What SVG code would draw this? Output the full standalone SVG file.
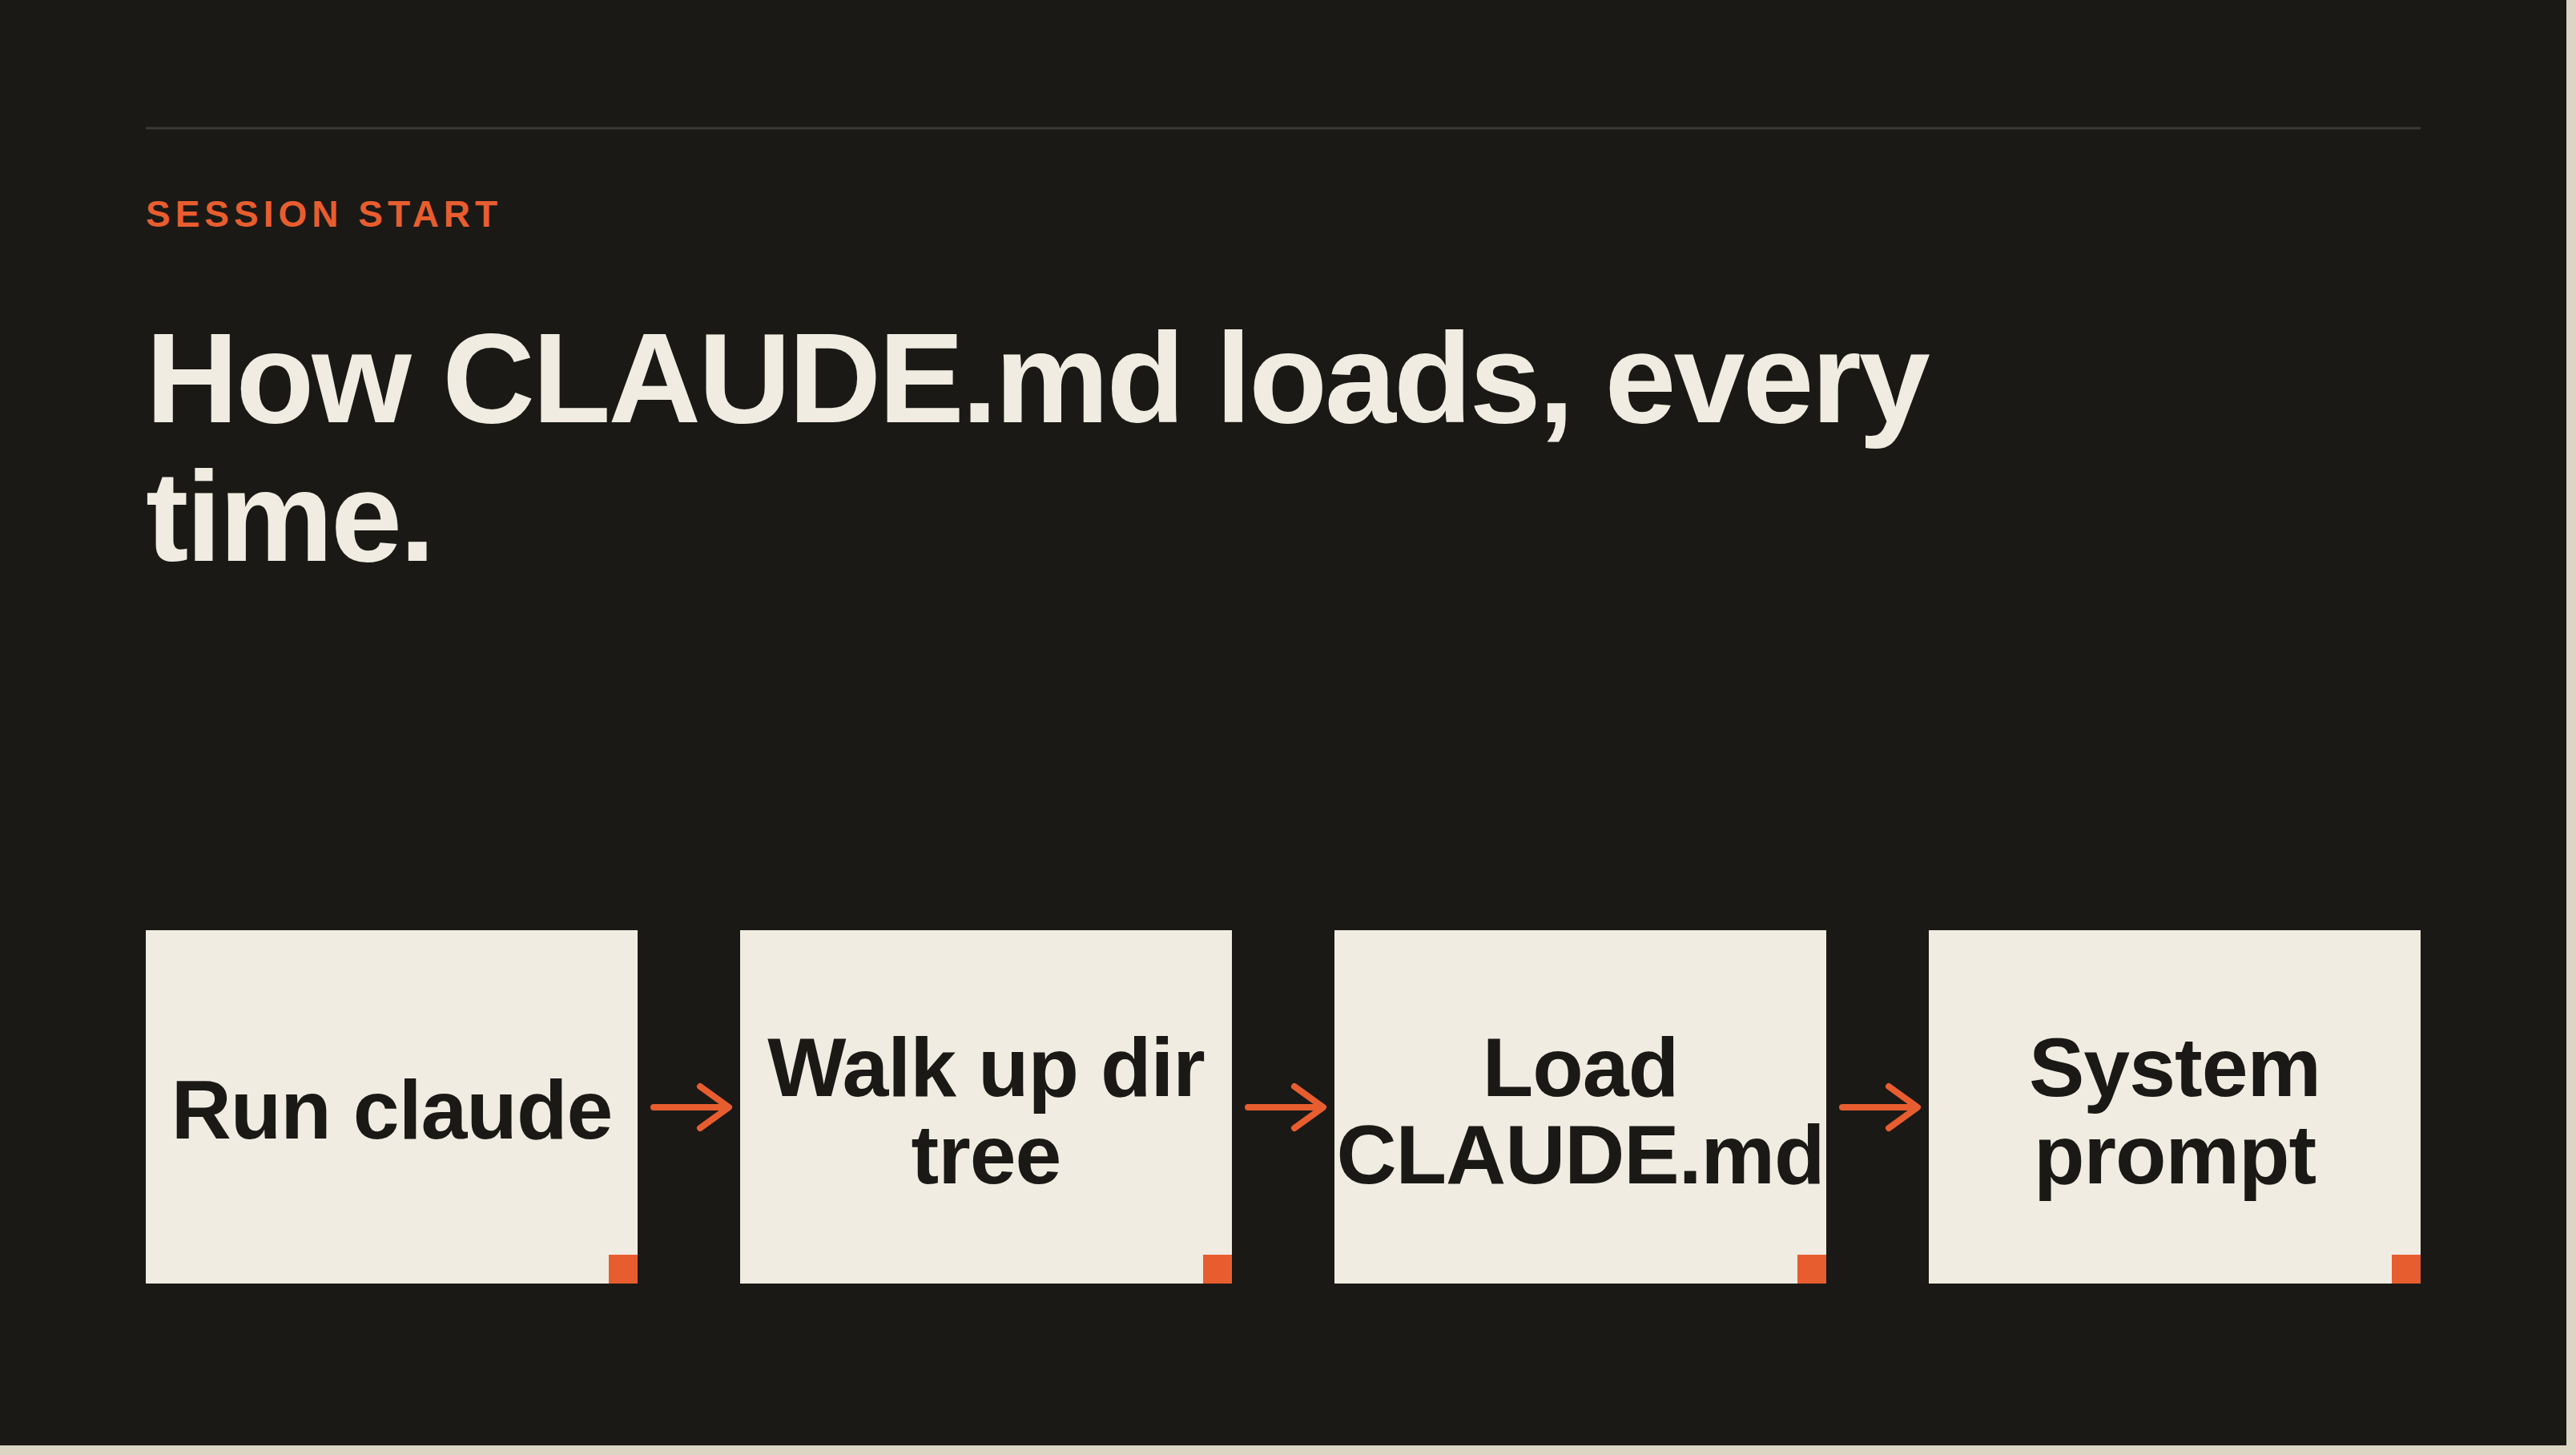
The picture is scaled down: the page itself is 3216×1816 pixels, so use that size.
<svg xmlns="http://www.w3.org/2000/svg" width="3216" height="1816" viewBox="0 0 3216 1816">
<style>
.box{fill:#f0ece2}
.tag{fill:#e85d2f}
.lbl{font-family:"Liberation Sans",Arial,sans-serif;font-weight:bold;font-size:104px;fill:#1a1915;text-anchor:middle;letter-spacing:-1px}
.con{stroke:#e85d2f;stroke-width:8;fill:none;stroke-linecap:round;stroke-linejoin:round}
</style>
<defs>
<clipPath id="c1"><rect x="182" y="1161" width="614" height="441"/></clipPath>
</defs>
<rect width="3216" height="1816" fill="#dcd5c4"/>
<rect width="3204" height="1804" fill="#1a1915"/>
<line x1="182" y1="160" x2="3022" y2="160" stroke="#3a3935" stroke-width="3"/>
<text x="182" y="283" font-family="Liberation Sans,Arial,sans-serif" font-weight="bold" font-size="46" fill="#e85d2f" letter-spacing="6">SESSION START</text>
<text font-family="Liberation Sans,Arial,sans-serif" font-weight="bold" font-size="160" fill="#f0ece2" letter-spacing="-3"><tspan x="182" y="527">How CLAUDE.md loads, every</tspan><tspan x="182" y="700">time.</tspan></text>
<g id="n1"><rect class="box" x="182" y="1161" width="614" height="441"/><text class="lbl" x="489" y="1421" clip-path="url(#c1)">Run claude</text><rect class="tag" x="760" y="1566" width="36" height="36"/></g>
<g id="n2"><rect class="box" x="924" y="1161" width="614" height="441"/><text class="lbl" x="1231" y="1368">Walk up dir</text><text class="lbl" x="1231" y="1477">tree</text><rect class="tag" x="1502" y="1566" width="36" height="36"/></g>
<g id="n3"><rect class="box" x="1666" y="1161" width="614" height="441"/><text class="lbl" x="1973" y="1368">Load</text><text class="lbl" x="1973" y="1477">CLAUDE.md</text><rect class="tag" x="2244" y="1566" width="36" height="36"/></g>
<g id="n4"><rect class="box" x="2408" y="1161" width="614" height="441"/><text class="lbl" x="2715" y="1368">System</text><text class="lbl" x="2715" y="1477">prompt</text><rect class="tag" x="2986" y="1566" width="36" height="36"/></g>
<g id="connectors">
<path class="con" d="M816 1382H908M874 1356L910 1382L874 1408"/>
<path class="con" d="M1558 1382H1650M1616 1356L1652 1382L1616 1408"/>
<path class="con" d="M2300 1382H2392M2358 1356L2394 1382L2358 1408"/>
</g>
</svg>
